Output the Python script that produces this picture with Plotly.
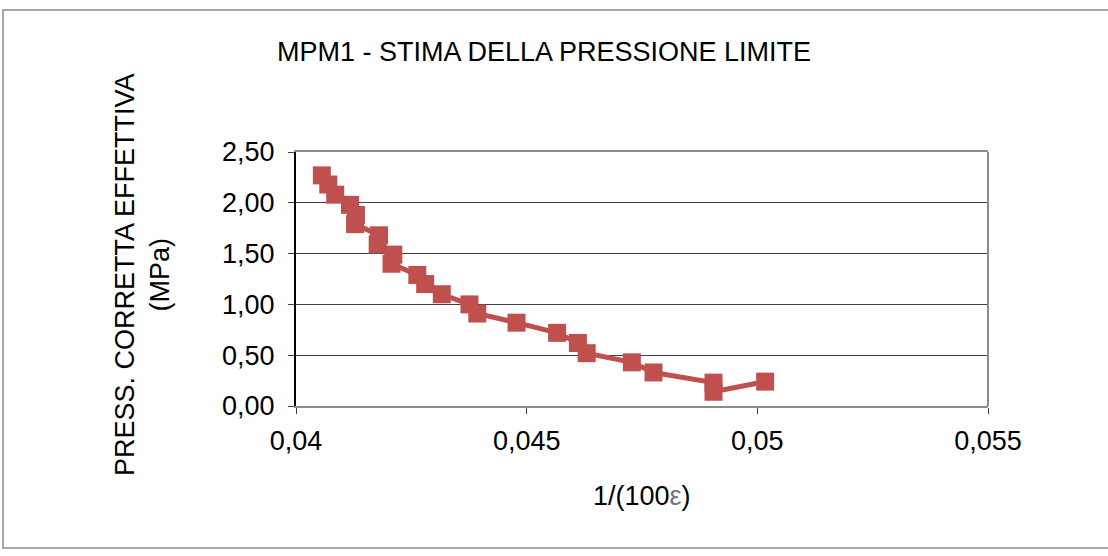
import plotly.graph_objects as go

x_vals = [0.04056, 0.04070, 0.04085, 0.04117, 0.04130, 0.04128, 0.04180, 0.04177,
          0.04211, 0.04207, 0.04263, 0.04280, 0.04316, 0.04376, 0.04393, 0.04478,
          0.04566, 0.04611, 0.04630, 0.04728, 0.04775, 0.04905, 0.04905, 0.05017]
y_vals = [2.27, 2.18, 2.08, 1.98, 1.88, 1.79, 1.68, 1.59,
          1.49, 1.40, 1.29, 1.20, 1.10, 1.00, 0.91, 0.82,
          0.72, 0.62, 0.52, 0.43, 0.33, 0.23, 0.14, 0.24]

x_ticks = [0.04, 0.045, 0.05, 0.055]
x_tick_text = ["0,04", "0,045", "0,05", "0,055"]
y_ticks = [0, 0.5, 1.0, 1.5, 2.0, 2.5]
y_tick_text = ["0,00", "0,50", "1,00", "1,50", "2,00", "2,50"]

W, H = 1108, 556
L, R, T, B = 296, 988, 152, 406
FONT = "Liberation Sans, Arial, sans-serif"
FS = 27

fig = go.Figure()
fig.add_trace(go.Scatter(
    x=x_vals, y=y_vals, mode="lines+markers",
    line=dict(color="#C0504D", width=5),
    marker=dict(symbol="square", size=18, color="#C0504D",
                line=dict(color="#C0504D", width=0)),
    showlegend=False,
))

pw, ph = R - L, B - T

def px2paper_x(px):
    return (px - L) / pw

def px2paper_y(py):
    return (B - py) / ph

fig.update_layout(
    width=W, height=H,
    margin=dict(l=L, r=W - R, t=T, b=H - B),
    paper_bgcolor="white", plot_bgcolor="white",
    font=dict(family=FONT, color="black"),
    title=dict(text="MPM1 - STIMA DELLA PRESSIONE LIMITE",
               x=544 / W, xanchor="center",
               y=1 - 52 / H, yanchor="middle",
               font=dict(family=FONT, size=FS, color="black")),
    xaxis=dict(range=[0.04, 0.055], tickvals=x_ticks, ticktext=x_tick_text,
               showgrid=False, zeroline=False,
               showline=True, linecolor="#8c8c8c", linewidth=2, mirror=True,
               ticks="outside", ticklen=6, tickcolor="#404040",
               ticklabelstandoff=4,
               tickfont=dict(size=FS, family=FONT)),
    yaxis=dict(range=[0, 2.5], tickvals=y_ticks, ticktext=y_tick_text,
               showgrid=True, gridcolor="#404040", gridwidth=1, zeroline=False,
               showline=True, linecolor="black", linewidth=2,
               ticks="outside", ticklen=6, tickcolor="#404040",
               ticklabelstandoff=8,
               tickfont=dict(size=FS, family=FONT)),
    annotations=[
        dict(text="1/(100<span style='color:#777'>ε</span>)",
             xref="paper", yref="paper", x=px2paper_x(642), y=px2paper_y(496),
             xanchor="center", yanchor="middle", showarrow=False,
             font=dict(size=FS, family=FONT, color="black")),
        dict(text="PRESS. CORRETTA EFFETTIVA<br>(MPa)",
             xref="paper", yref="paper", x=px2paper_x(142), y=px2paper_y(275),
             xanchor="center", yanchor="middle", showarrow=False, textangle=-90,
             font=dict(size=FS, family=FONT, color="black")),
    ],
    shapes=[
        dict(type="line", xref="paper", yref="paper", x0=1, x1=1, y0=0, y1=1,
             line=dict(color="#8c8c8c", width=2)),
        dict(type="rect", xref="paper", yref="paper",
             x0=px2paper_x(3), x1=px2paper_x(1112),
             y0=px2paper_y(548), y1=px2paper_y(10),
             line=dict(color="#8c8c8c", width=1.5), layer="below"),
    ],
)

fig.write_html("out.html")
